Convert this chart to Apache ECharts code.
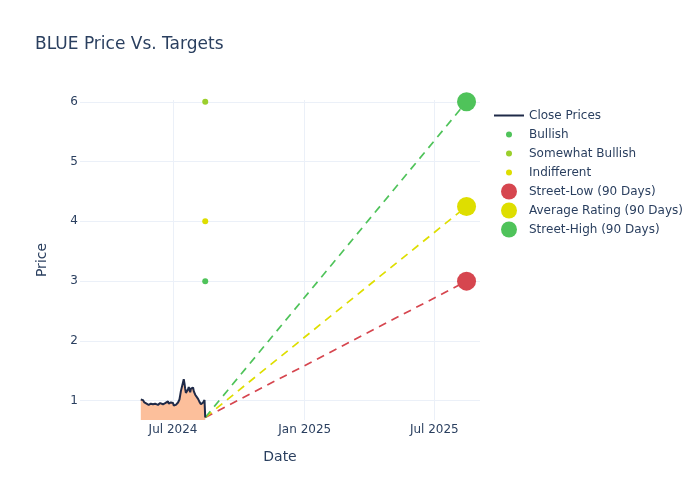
<!DOCTYPE html>
<html>
<head>
<meta charset="utf-8">
<script src="https://cdn.jsdelivr.net/npm/echarts@6/dist/echarts.min.js"></script>
<style>html,body{margin:0;padding:0;background:#fff}#chart{width:700px;height:500px}</style>
</head>
<body>
<div id="chart"></div>
<script>
// ---- data ----
const dates = ['2024-05-17','2024-05-20','2024-05-21','2024-05-22','2024-05-23','2024-05-24','2024-05-28','2024-05-29','2024-05-30','2024-05-31',
  '2024-06-03','2024-06-04','2024-06-05','2024-06-06','2024-06-07','2024-06-10','2024-06-11','2024-06-12','2024-06-13','2024-06-14',
  '2024-06-17','2024-06-18','2024-06-20','2024-06-21','2024-06-24','2024-06-25','2024-06-26','2024-06-27','2024-06-28',
  '2024-07-01','2024-07-02','2024-07-03','2024-07-05','2024-07-08','2024-07-09','2024-07-10','2024-07-11','2024-07-12',
  '2024-07-15','2024-07-16','2024-07-17','2024-07-18','2024-07-19','2024-07-22','2024-07-23','2024-07-24','2024-07-25','2024-07-26',
  '2024-07-29','2024-07-30','2024-07-31','2024-08-01','2024-08-02','2024-08-05','2024-08-06','2024-08-07','2024-08-08','2024-08-09',
  '2024-08-12','2024-08-13','2024-08-14','2024-08-15'];
const closes = [1.02,1.01,0.99,0.97,0.98,0.96,0.93,0.91,0.93,0.95,
  0.94,0.91,0.92,0.95,0.97,0.93,0.90,0.93,0.96,0.98,
  0.94,0.92,0.96,0.98,0.99,0.95,0.93,0.96,0.97,
  0.96,0.92,0.90,0.93,0.97,0.96,1.02,1.09,1.16,
  1.31,1.36,1.29,1.20,1.13,1.19,1.23,1.18,1.14,1.20,
  1.22,1.16,1.13,1.10,1.08,1.03,1.00,0.98,0.95,0.94,
  0.97,1.00,1.01,0.72];

const ratingDate = '2024-08-15';
const ratingNames = ['Bullish','Somewhat Bullish','Indifferent'];
const ratingValues = [3, 6, 4];

const targetDate = '2025-08-15';
const targetNames = ['Street-Low (90 Days)','Average Rating (90 Days)','Street-High (90 Days)'];
const targetValues = [3, 4.25, 6];

const xTicks = ['2024-07-01','2025-01-01','2025-07-01'];
const xTickLabels = ['Jul 2024','Jan 2025','Jul 2025'];
const yTicks = [1,2,3,4,5,6];

// ---- styles ----
const ratingColors = ['#4fc35a','#9bcf2c','#dede00'];
const targetColors = ['#d6464f','#dede00','#4fc35a'];
const textColor = '#2a3f5f';
const gridColor = '#ebf0f8';
const FONT = 'DejaVu Sans';

function t(s){ const p = s.split('-').map(Number); return Date.UTC(p[0], p[1]-1, p[2]); }

const xMin = t('2024-02-22') + 2*3600e3;
const xMax = t('2025-09-02') + 19*3600e3;
const xTickVals = xTicks.map(t);

const lastDate = dates[dates.length-1];
const lastClose = closes[closes.length-1];

const series = [];
series.push({
  name: 'Close Prices', type: 'line', showSymbol: false, symbol: 'none',
  data: dates.map((d,i)=>[t(d), closes[i]]),
  lineStyle: {color: '#1f2a48', width: 2},
  itemStyle: {color: '#1f2a48'},
  areaStyle: {color: '#fcbf9b', opacity: 1, origin: 'start'},
  z: 3
});
targetNames.forEach((n,i)=>{
  series.push({
    name: n + ' line', type: 'line', symbol: 'none',
    data: [[t(lastDate), lastClose],[t(targetDate), targetValues[i]]],
    lineStyle: {color: targetColors[i], width: 1.7, type: [8,6]},
    z: 2
  });
});
ratingNames.forEach((n,i)=>{
  series.push({
    name: n, type: 'scatter', symbolSize: 6,
    data: [[t(ratingDate), ratingValues[i]]],
    itemStyle: {color: ratingColors[i], opacity: 1},
    z: 4
  });
});
targetNames.forEach((n,i)=>{
  series.push({
    name: n, type: 'scatter', symbolSize: 19,
    data: [[t(targetDate), targetValues[i]]],
    itemStyle: {color: targetColors[i], opacity: 1},
    z: 5
  });
});

const legendText = {color: textColor, fontSize: 12, fontFamily: FONT, lineHeight: 19};
const chart = echarts.init(document.getElementById('chart'), null, {renderer: 'canvas'});
chart.setOption({
  animation: false,
  backgroundColor: '#fff',
  title: {text: 'BLUE Price Vs. Targets', left: 30, top: 31,
    textStyle: {color: textColor, fontSize: 17, fontWeight: 'normal', fontFamily: FONT}},
  grid: {left: 80, right: 220, top: 100, bottom: 80, containLabel: false},
  legend: [
    {orient: 'vertical', left: 489, top: 101, itemGap: 0, itemWidth: 30, itemHeight: 2,
      textStyle: legendText, data: [{name: 'Close Prices', icon: 'rect'}], selectedMode: false},
    {orient: 'vertical', left: 501, top: 120, itemGap: 0, itemWidth: 30, itemHeight: 6,
      textStyle: legendText, data: ratingNames.map(n=>({name: n, icon: 'circle'})), selectedMode: false},
    {orient: 'vertical', left: 496, top: 177, itemGap: 0, itemWidth: 30, itemHeight: 16,
      textStyle: legendText, data: targetNames.map(n=>({name: n, icon: 'circle'})), selectedMode: false}
  ],
  xAxis: {
    type: 'value', min: xMin, max: xMax, scale: true,
    name: 'Date', nameLocation: 'middle', nameGap: 30,
    nameTextStyle: {color: textColor, fontSize: 14, fontFamily: FONT},
    axisLine: {show: false},
    axisTick: {show: false, customValues: xTickVals},
    axisLabel: {customValues: xTickVals, margin: 4, color: textColor, fontSize: 12, fontFamily: FONT,
      formatter: v => { const i = xTickVals.indexOf(v); return i >= 0 ? xTickLabels[i] : ''; }},
    splitLine: {show: true, lineStyle: {color: gridColor, width: 1}}
  },
  yAxis: {
    type: 'value', min: 0.677, max: 6.03,
    name: 'Price', nameLocation: 'middle', nameGap: 31,
    nameTextStyle: {color: textColor, fontSize: 14, fontFamily: FONT},
    axisLine: {show: false},
    axisTick: {show: false, customValues: yTicks},
    axisLabel: {customValues: yTicks, margin: 2, color: textColor, fontSize: 12, fontFamily: FONT},
    splitLine: {show: true, lineStyle: {color: gridColor, width: 1}}
  },
  series: series
});
</script>
</body>
</html>
